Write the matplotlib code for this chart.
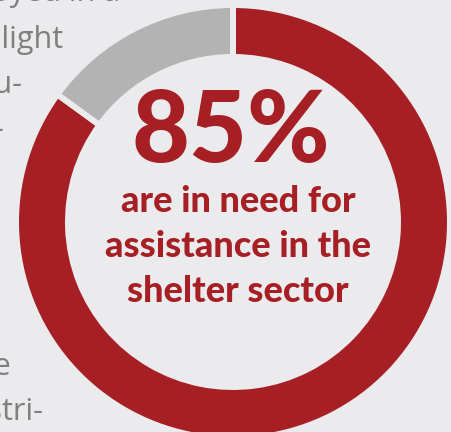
import matplotlib
matplotlib.use("Agg")
import matplotlib.pyplot as plt

# Share of people in need of shelter assistance
labels = ["In need", "Not in need"]
shares = [85, 15]
colors = ["#a61f24", "#b3b3b3"]

headline = "85%"
caption = ["are in need for", "assistance in the", "shelter sector"]

# Body-text fragments of the neighbouring paragraph (right edge x, baseline y)
side_text = ["deployed in a", "in light", "accu-", "-", "the", "distri-"]
side_right = [120, 63, 23, 4, 11, 43]
side_base = [1, 48, 93, 138, 375, 420]

BG = "#ebebed"
W, H = 452, 432

fig = plt.figure(figsize=(W / 100, H / 100), dpi=100, facecolor=BG)
ax = fig.add_axes([0, 0, 1, 1])
ax.set_facecolor(BG)

# Donut geometry in pixel units (y measured from the bottom)
cx, cy = 233, H - 222
r_out, ring = 214, 46
gap_pt = 4.3
gap_px = gap_pt * 100 / 72

ax.pie(shares, colors=colors, startangle=90, counterclock=False,
       center=(cx, cy), radius=r_out + gap_px / 2,
       wedgeprops=dict(width=ring + gap_px, edgecolor=BG, linewidth=gap_pt),
       frame=True)

ax.set_xlim(0, W)
ax.set_ylim(0, H)
ax.set_aspect("equal")
ax.axis("off")

red = "#a61f24"
ax.text(cx - 2, H - 162, headline, ha="center", va="baseline", color=red,
        fontsize=72, fontweight=900, family=["Lato", "DejaVu Sans"])
for i, line in enumerate(caption):
    ax.text(cx + 5, H - (212 + i * 45), line, ha="center", va="baseline",
            color=red, fontsize=26, fontweight=900,
            family=["Lato", "DejaVu Sans"])

for t, xr, yb in zip(side_text, side_right, side_base):
    ax.text(xr, H - yb, t, ha="right", va="baseline", color="#7f7f7f",
            fontsize=22, family=["Open Sans", "DejaVu Sans"], zorder=0)

fig.savefig("out.png", dpi=100, facecolor=BG)
